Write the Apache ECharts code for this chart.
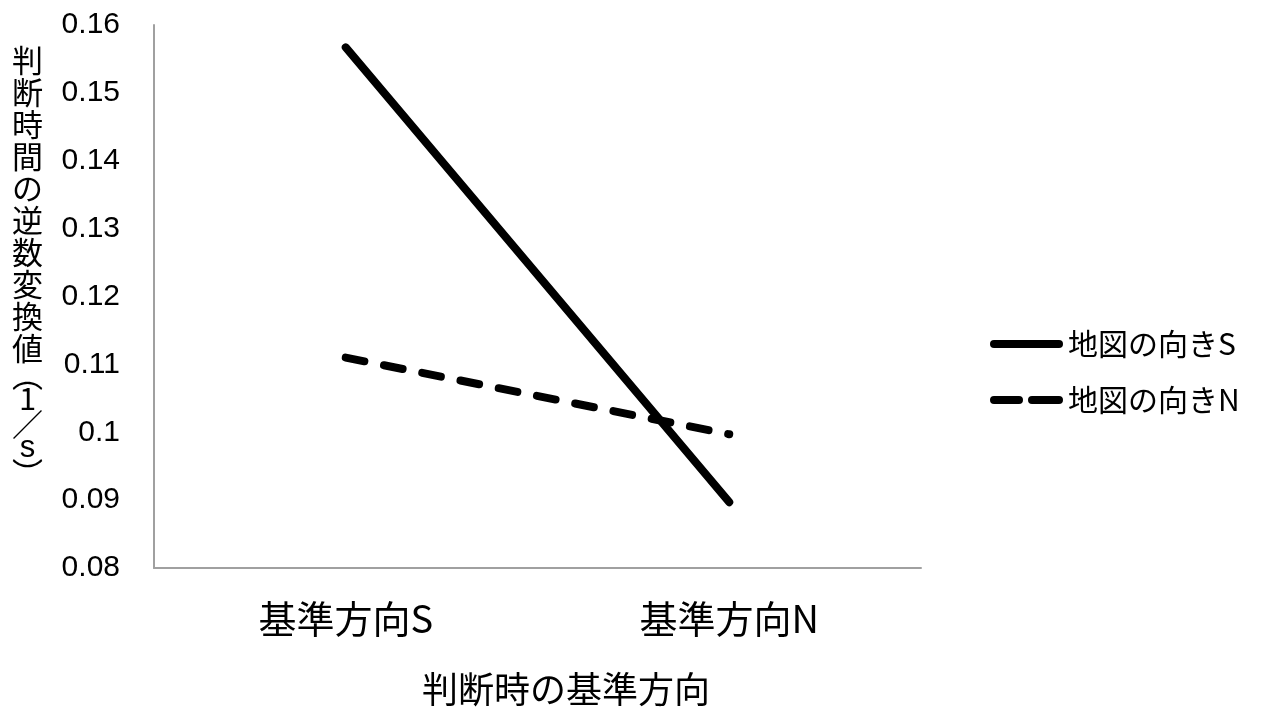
<!DOCTYPE html>
<html>
<head>
<meta charset="utf-8">
<script src="https://cdn.jsdelivr.net/npm/echarts@6/dist/echarts.min.js"></script>
<style>
  html, body { margin: 0; padding: 0; background: #fff; }
  #chart { width: 1271px; height: 711px; }
</style>
</head>
<body>
<div id="chart"></div>
<script>
// Reference direction at judgement time (x categories)
const categories = ['基準方向S', '基準方向N'];
// Inverse-transformed judgement time (1/s) per map orientation
const seriesNames = ['地図の向きS', '地図の向きN'];
const mapS = [0.1567, 0.0897];
const mapN = [0.1110, 0.0997];
// Value axis range and step
const yMin = 0.08, yMax = 0.16, yStep = 0.01;
const yTitleChars = ['判', '断', '時', '間', 'の', '逆', '数', '変', '換', '値', '︵', '1', '／', 's', '︶'];
const xTitle = '判断時の基準方向';

const CJK = '"Noto Sans CJK JP", "Liberation Sans", sans-serif';
const NUM = '"Liberation Sans", Arial, sans-serif';

// Legend keys: a thick rounded bar, and two rounded dashes
const solidKey = 'path://M4,0 L69,0 A4,4 0 0 1 69,8 L4,8 A4,4 0 0 1 4,0 Z';
const dashKey = 'path://M4,0 L29,0 A4,4 0 0 1 29,8 L4,8 A4,4 0 0 1 4,0 Z ' +
                'M42,0 L69,0 A4,4 0 0 1 69,8 L42,8 A4,4 0 0 1 42,0 Z';

// Vertical y-axis title built line by line; brackets take less height
const tailStyle = { '︵': 'p', '1': 'n', '／': 'sl', 's': 'n2', '︶': 'p2' };
const yTitleText = yTitleChars.map(c => '{' + (tailStyle[c] || 'm') + '|' + c + '}').join('\n');

const chart = echarts.init(document.getElementById('chart'));
chart.setOption({
  animation: false,
  backgroundColor: '#ffffff',
  grid: { left: 154, right: 350, top: 25, bottom: 143, containLabel: false },
  xAxis: {
    type: 'category',
    data: categories,
    boundaryGap: true,
    axisLine: { show: true, lineStyle: { color: '#a0a0a0', width: 2 } },
    axisTick: { show: false },
    axisLabel: { color: '#000', fontSize: 38, fontFamily: CJK, margin: 32 },
    splitLine: { show: false }
  },
  yAxis: {
    type: 'value',
    min: yMin,
    max: yMax,
    interval: yStep,
    axisLine: { show: true, lineStyle: { color: '#a0a0a0', width: 2 } },
    axisTick: { show: false },
    splitLine: { show: false },
    axisLabel: {
      color: '#000', fontSize: 30, fontFamily: NUM, margin: 34,
      formatter: v => String(parseFloat(v.toFixed(2)))
    }
  },
  legend: {
    orient: 'vertical',
    left: 985,
    top: 324,
    itemWidth: 73,
    itemHeight: 20,
    itemGap: 26,
    textStyle: { color: '#000', fontSize: 30, fontFamily: CJK },
    data: [
      { name: seriesNames[0], icon: solidKey, itemStyle: { color: '#000' } },
      { name: seriesNames[1], icon: dashKey, itemStyle: { color: '#000' } }
    ]
  },
  series: [
    {
      name: seriesNames[0],
      type: 'line',
      data: mapS,
      showSymbol: false,
      symbol: 'none',
      lineStyle: { color: '#000', width: 8, cap: 'round', join: 'round' },
      itemStyle: { color: '#000' }
    },
    {
      name: seriesNames[1],
      type: 'line',
      data: mapN,
      showSymbol: false,
      symbol: 'none',
      lineStyle: { color: '#000', width: 8, type: [19, 20], cap: 'round', join: 'round' },
      itemStyle: { color: '#000' }
    }
  ],
  graphic: [
    {
      type: 'text',
      left: 12,
      top: 45,
      style: {
        text: yTitleText,
        align: 'center',
        fill: '#000',
        rich: {
          m: { fontSize: 31, lineHeight: 32, fontFamily: CJK, width: 31, align: 'center' },
          p: { fontSize: 31, lineHeight: 22, fontFamily: CJK, width: 31, align: 'center' },
          p2: { fontSize: 31, lineHeight: 30, fontFamily: CJK, width: 31, align: 'center' },
          n: { fontSize: 31, lineHeight: 24, fontFamily: CJK, width: 31, align: 'center' },
          sl: { fontSize: 31, lineHeight: 28, fontFamily: CJK, width: 31, align: 'center' },
          n2: { fontSize: 31, lineHeight: 20, fontFamily: NUM, width: 31, align: 'center' }
        }
      }
    },
    {
      type: 'text',
      left: 422,
      top: 671,
      style: { text: xTitle, fill: '#000', fontSize: 36, fontFamily: CJK }
    }
  ]
});
</script>
</body>
</html>
